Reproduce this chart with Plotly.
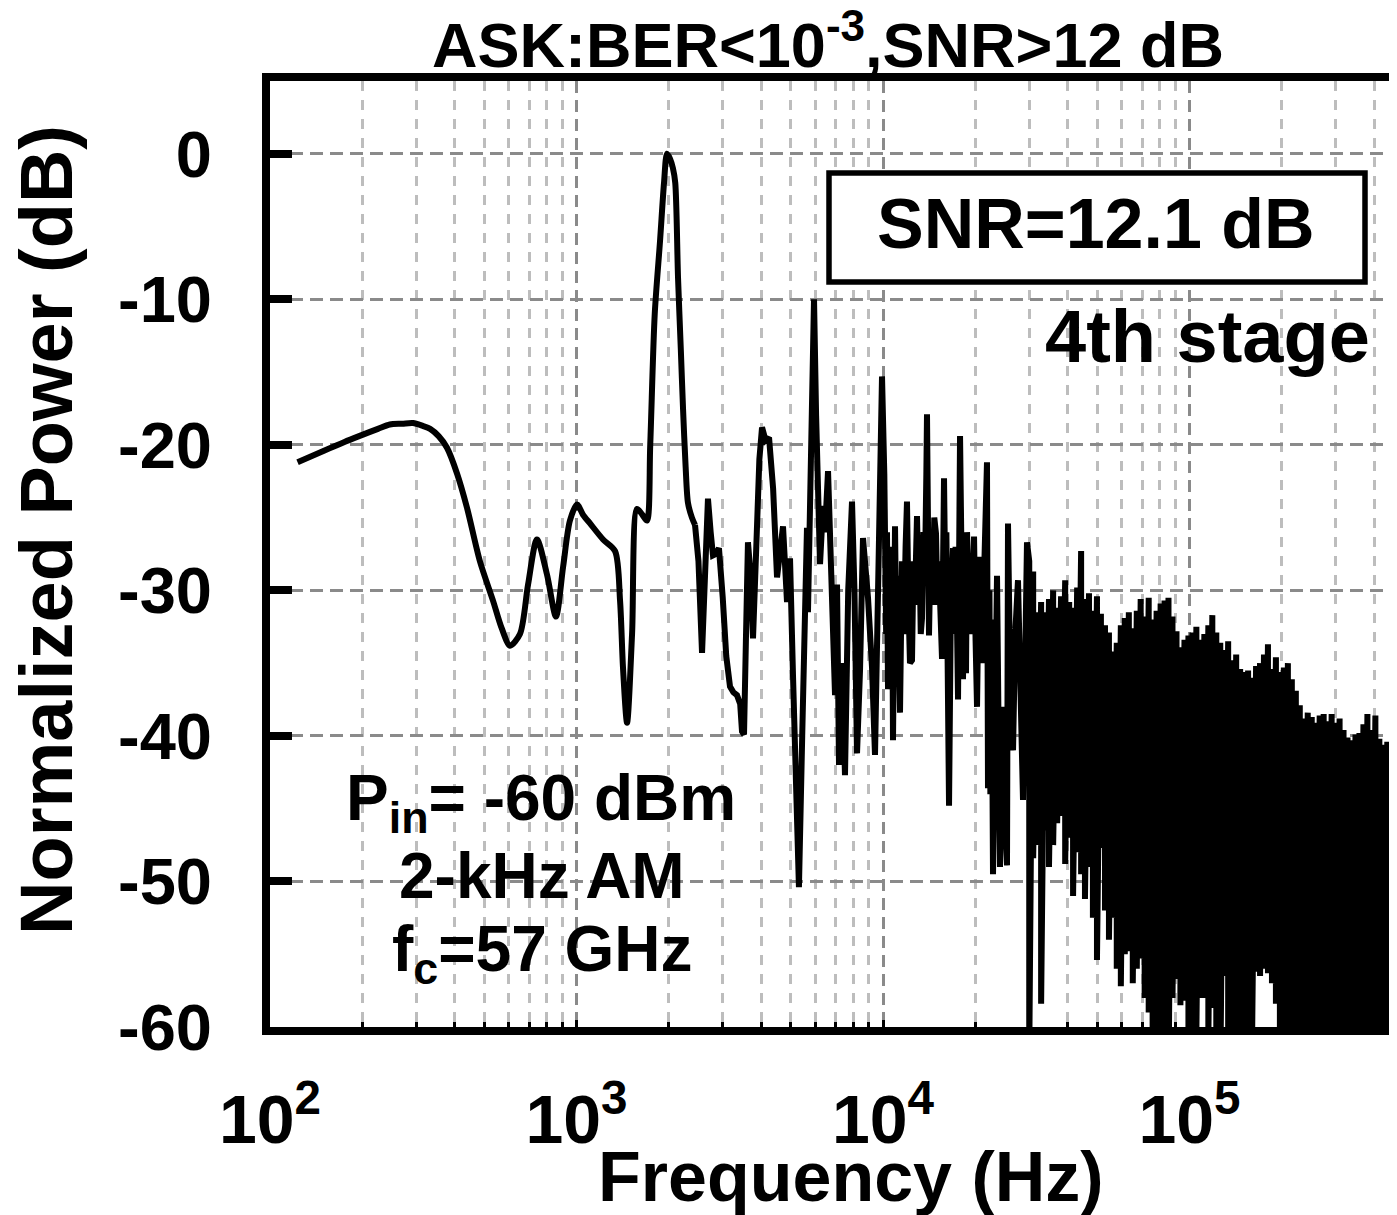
import plotly.graph_objects as go

# ---------------- data ----------------
# smooth low-frequency part of the spectrum (Hz, dB)
lf_freq = [123, 150, 175, 201, 225, 246, 270, 293, 315, 333,
           355, 378, 408, 439, 484, 534, 570, 607, 654, 695,
           743, 801, 857, 904, 952, 1004, 1050, 1107, 1221, 1336,
           1387, 1418, 1462, 1518, 1576, 1640, 1698, 1740, 1800, 1873,
           1930, 1974, 2020, 2064, 2100, 2144, 2190, 2226, 2270, 2311,
           2380, 2436]
lf_db = [-21.2, -20.4, -19.8, -19.3, -18.9, -18.6, -18.55, -18.5, -18.7, -18.9,
         -19.4, -20.2, -22.0, -24.3, -28.0, -30.7, -32.6, -33.8, -33.0, -29.6,
         -26.5, -28.9, -31.8, -28.4, -25.2, -24.1, -24.8, -25.4, -26.5, -27.3,
         -30.7, -35.3, -39.1, -33.0, -24.4, -24.8, -25.2, -20.0, -11.0, -6.0,
         -2.0, 0.0, -0.35, -1.0, -2.0, -8.5, -13.5, -17.5, -21.5, -24.0,
         -25.0, -25.5]

# mid-frequency part, 2.4 kHz - 10 kHz (Hz, dB)
mid_freq = [2436, 2500, 2568, 2620, 2685, 2740, 2788, 2850, 2916, 3000,
            3080, 3168, 3250, 3339, 3420, 3467, 3520, 3570, 3626, 3700,
            3766, 3860, 3950, 4030, 4140, 4248, 4380, 4511, 4600, 4718,
            4862, 4973, 5085, 5200, 5318, 5450, 5566, 5649, 5691, 5800,
            5956, 6050, 6231, 6372, 6469, 6617, 6800, 6974, 7079, 7186,
            7350, 7516, 7700, 7923, 8070, 8227, 8414, 8604, 8934, 9208,
            9417, 9632]
mid_db = [-25.5, -28.0, -34.3, -30.0, -23.7, -26.0, -27.6, -27.5, -27.1, -30.5,
          -34.5, -36.6, -37.0, -37.2, -37.8, -39.7, -39.9, -33.5, -26.7, -29.0,
          -33.3, -27.0, -21.0, -18.8, -19.7, -19.5, -23.0, -29.1, -27.5, -25.6,
          -30.8, -27.8, -35.8, -42.0, -50.4, -40.0, -31.9, -25.7, -31.5, -22.0,
          -10.0, -18.0, -28.2, -24.2, -26.0, -21.8, -30.0, -37.2, -29.6, -42.0,
          -35.0, -42.7, -30.0, -23.9, -30.0, -41.2, -35.5, -26.4, -30.5, -35.3,
          -41.3, -28.9]

# 10 kHz - 30 kHz (Hz, dB)
nf_freq = [9926, 10100, 10240, 10305, 10383, 10500, 10600, 10700, 10780, 10945,
           11060, 11150, 11250, 11363, 11530, 11700, 11850, 11975, 12110, 12248,
           12434, 12570, 12700, 12800, 12910, 13050, 13150, 13280, 13405, 13550,
           13700, 13850, 13917, 14128, 14300, 14500, 14700, 14893, 15050, 15200,
           15400, 15580, 15816, 15950, 16100, 16250, 16422, 16650, 16923, 17100,
           17250, 17400, 17571, 17838, 18030, 18239, 18450, 18655, 18800, 18950,
           19224, 19400, 19650, 19816, 20050, 20267, 20573, 20800, 21000, 21150,
           21300, 21600, 21842, 22007, 22250, 22400, 22600, 22850, 23200, 23550,
           24083, 24500, 24900, 25386, 25575, 26000, 26560, 27000, 27570, 28100,
           28626, 29497]
nf_db = [-15.3, -22.0, -33.0, -26.0, -36.8, -28.0, -33.0, -27.0, -40.3, -25.6,
         -34.0, -29.0, -36.0, -38.4, -28.0, -33.0, -27.0, -23.9, -31.0, -35.0,
         -34.8, -28.0, -31.0, -26.0, -24.9, -30.0, -27.0, -33.0, -31.9, -26.0,
         -29.0, -22.0, -17.9, -33.1, -27.0, -31.0, -25.0, -26.1, -31.0, -28.0,
         -33.0, -34.7, -22.3, -29.0, -26.0, -36.0, -44.8, -31.0, -27.1, -33.0,
         -27.0, -31.0, -37.5, -19.4, -30.0, -36.1, -28.0, -35.7, -26.0, -29.0,
         -27.7, -33.0, -29.0, -26.3, -33.5, -38.0, -27.7, -33.0, -28.0, -35.0,
         -30.0, -26.0, -21.2, -43.6, -30.0, -44.0, -32.0, -49.5, -34.0, -29.0,
         -49.0, -38.0, -45.0, -48.9, -25.4, -36.0, -41.0, -33.0, -29.3, -40.0,
         -44.4, -26.7]

# dense high-frequency noise floor: per frequency bin, local peak and local dip (dB)
hf_freq = [30000, 30900, 31800, 32800, 33800, 34800, 35900, 37000, 38100, 39300,
           40500, 41700, 43000, 44300, 45600, 47000, 48400, 49900, 51400, 53000,
           54600, 56200, 57900, 59700, 61500, 63400, 65300, 67300, 69300, 71400,
           73600, 75800, 78100, 80500, 82900, 85400, 88000, 90700, 93400, 96300,
           99200, 102200, 105300, 108500, 111800, 115200, 118700, 122300, 126000, 129800,
           133700, 137800, 142000, 146300, 150700, 155300, 160000, 164900, 169900, 175000,
           180300, 185800, 191400, 197200, 203200, 209400, 215700, 222300, 229000, 236000,
           243100, 250500, 258100, 265900, 274000, 282300, 290900, 299700, 308800, 318100,
           327800, 337700, 348000, 358500, 369400, 380600, 392200, 404100, 416300, 428900,
           441900, 455300, 469100]
hf_top = [-28.0, -28.7, -31.5, -30.8, -31.5, -30.6, -30.0, -31.2, -30.4, -29.3,
          -30.8, -31.2, -29.8, -27.3, -30.6, -30.2, -31.4, -30.4, -31.6, -32.4,
          -32.9, -34.2, -33.6, -32.4, -31.9, -31.5, -32.6, -31.4, -30.6, -31.8,
          -30.5, -32.0, -31.4, -30.9, -30.7, -30.5, -31.8, -32.8, -33.9, -33.4,
          -33.1, -32.9, -32.5, -33.4, -33.0, -32.4, -31.7, -32.9, -33.6, -34.1,
          -33.5, -34.8, -34.4, -35.4, -35.6, -35.5, -36.0, -35.2, -35.0, -34.4,
          -33.7, -35.4, -34.6, -35.6, -35.3, -35.0, -36.1, -36.9, -37.9, -38.8,
          -38.4, -38.7, -39.1, -38.6, -38.5, -39.0, -38.5, -39.1, -38.8, -39.6,
          -40.1, -40.3, -39.9, -39.8, -39.2, -38.5, -39.6, -38.6, -40.2, -40.6,
          -40.4, -40.7, -41.0]
hf_bot = [-62.0, -48.4, -47.5, -58.4, -46.5, -49.0, -47.5, -46.0, -45.5, -48.8,
          -47.0, -51.0, -48.0, -49.5, -51.2, -49.0, -52.5, -55.4, -47.7, -52.0,
          -54.0, -52.5, -56.0, -57.2, -55.0, -54.8, -57.0, -56.0, -55.3, -58.0,
          -59.0, -60.4, -62.0, -63.0, -62.0, -64.0, -58.0, -56.7, -58.5, -58.2,
          -62.0, -63.0, -60.5, -58.0, -58.0, -61.0, -58.7, -62.0, -64.0, -56.5,
          -63.0, -62.0, -61.0, -64.0, -62.0, -63.0, -61.0, -56.2, -56.5, -56.0,
          -56.3, -57.0, -58.4, -62.0, -64.0, -66.0, -63.0, -65.0, -62.0, -66.0,
          -64.0, -63.0, -66.0, -65.0, -62.0, -64.0, -66.0, -63.0, -65.0, -64.0,
          -66.0, -62.0, -65.0, -64.0, -66.0, -63.0, -65.0, -64.0, -62.0, -66.0,
          -64.0, -65.0, -63.0]

ytick_vals = [0, -10, -20, -30, -40, -50, -60]
ytick_text = ["0", "-10", "-20", "-30", "-40", "-50", "-60"]
xtick_vals = [1e2, 1e3, 1e4, 1e5]
xtick_text = ["10<sup>2</sup>", "10<sup>3</sup>", "10<sup>4</sup>", "10<sup>5</sup>"]

# ---------------- layout geometry ----------------
OFF = 8                      # page body margin of the html page
W, H = 1397 - OFF, 1215 - OFF
L, R, T, B = 270 - OFF, 0, 81 - OFF, 1215 - 1027
PW, PH = W - L - R, H - T - B


def paper_x(p):              # p: page pixel
    return (p - OFF - L) / PW


def paper_y(p):
    return (H - B - (p - OFF)) / PH


FONT = "Arial, Liberation Sans, Helvetica, sans-serif"

# build the high-frequency line from the peak/dip table
hx, hy = [], []
for f, t, b in zip(hf_freq, hf_top, hf_bot):
    hx += [f, f]
    hy += [t, b]

LW = 6
fig = go.Figure()
fig.add_trace(go.Scatter(x=lf_freq, y=lf_db, mode="lines",
                         line=dict(color="black", width=LW, shape="spline", smoothing=0.8),
                         showlegend=False, hoverinfo="skip"))
fig.add_trace(go.Scatter(x=mid_freq + nf_freq + hx, y=mid_db + nf_db + hy, mode="lines",
                         line=dict(color="black", width=LW),
                         showlegend=False, hoverinfo="skip"))

minor_vals = [d * m for d in (1e2, 1e3, 1e4, 1e5) for m in range(2, 10)]

fig.update_xaxes(type="log", range=[2, 2 + PW / 306.5],
                 tickmode="array", tickvals=xtick_vals, ticktext=xtick_text,
                 tickfont=dict(family=FONT, size=68, color="black", weight="bold"),
                 ticklabelstandoff=26,
                 ticks="inside", ticklen=7, tickwidth=3, tickcolor="black",
                 showline=True, linewidth=8, linecolor="black", mirror=True,
                 showgrid=True, gridcolor="#8a8a8a", gridwidth=2.5, griddash="12px,7px",
                 minor=dict(tickmode="array", tickvals=minor_vals, ticks="inside",
                            ticklen=5, tickwidth=3, tickcolor="black",
                            showgrid=True, gridcolor="#bdbdbd", gridwidth=2.5,
                            griddash="10px,9px"),
                 zeroline=False)
fig.update_yaxes(range=[-60, 5], tickmode="array", tickvals=ytick_vals, ticktext=ytick_text,
                 tickfont=dict(family=FONT, size=65, color="black", weight="bold"),
                 ticklabelstandoff=37,
                 ticks="inside", ticklen=22, tickwidth=8, tickcolor="black",
                 showline=True, linewidth=8, linecolor="black", mirror=False,
                 showgrid=True, gridcolor="#8a8a8a", gridwidth=3, griddash="13px,7px",
                 zeroline=False)

txt = dict(family=FONT, color="black", weight="bold")
annotations = [
    dict(text="ASK:BER<10<sup>-3</sup>,SNR>12 dB", x=paper_x(828), y=paper_y(40),
         font=dict(size=63, **txt)),
    dict(text="SNR=12.1 dB", x=paper_x(1096), y=paper_y(224), font=dict(size=70, **txt)),
    dict(text="4th stage", x=paper_x(1207), y=paper_y(336), font=dict(size=74, **txt)),
    dict(text="P<sub>in</sub>= -60 dBm", x=paper_x(541), y=paper_y(802), font=dict(size=64, **txt)),
    dict(text="2-kHz AM", x=paper_x(542), y=paper_y(876), font=dict(size=64, **txt)),
    dict(text="f<sub>c</sub>=57 GHz", x=paper_x(542), y=paper_y(953), font=dict(size=64, **txt)),
    dict(text="Frequency (Hz)", x=paper_x(851), y=paper_y(1177), font=dict(size=70, **txt)),
    dict(text="Normalized Power (dB)", x=paper_x(46), y=paper_y(530), textangle=-90,
         font=dict(size=74, **txt)),
]
for a in annotations:
    a.update(xref="paper", yref="paper", xanchor="center", yanchor="middle", showarrow=False)

fig.update_layout(
    width=W, height=H,
    margin=dict(l=L, r=R, t=T, b=B, pad=0),
    paper_bgcolor="white", plot_bgcolor="white",
    annotations=annotations,
    shapes=[dict(type="rect", xref="paper", yref="paper",
                 x0=paper_x(829), x1=paper_x(1365), y0=paper_y(282), y1=paper_y(173),
                 line=dict(color="black", width=5.5), fillcolor="white", layer="above")],
)

fig.write_html("out.html")
